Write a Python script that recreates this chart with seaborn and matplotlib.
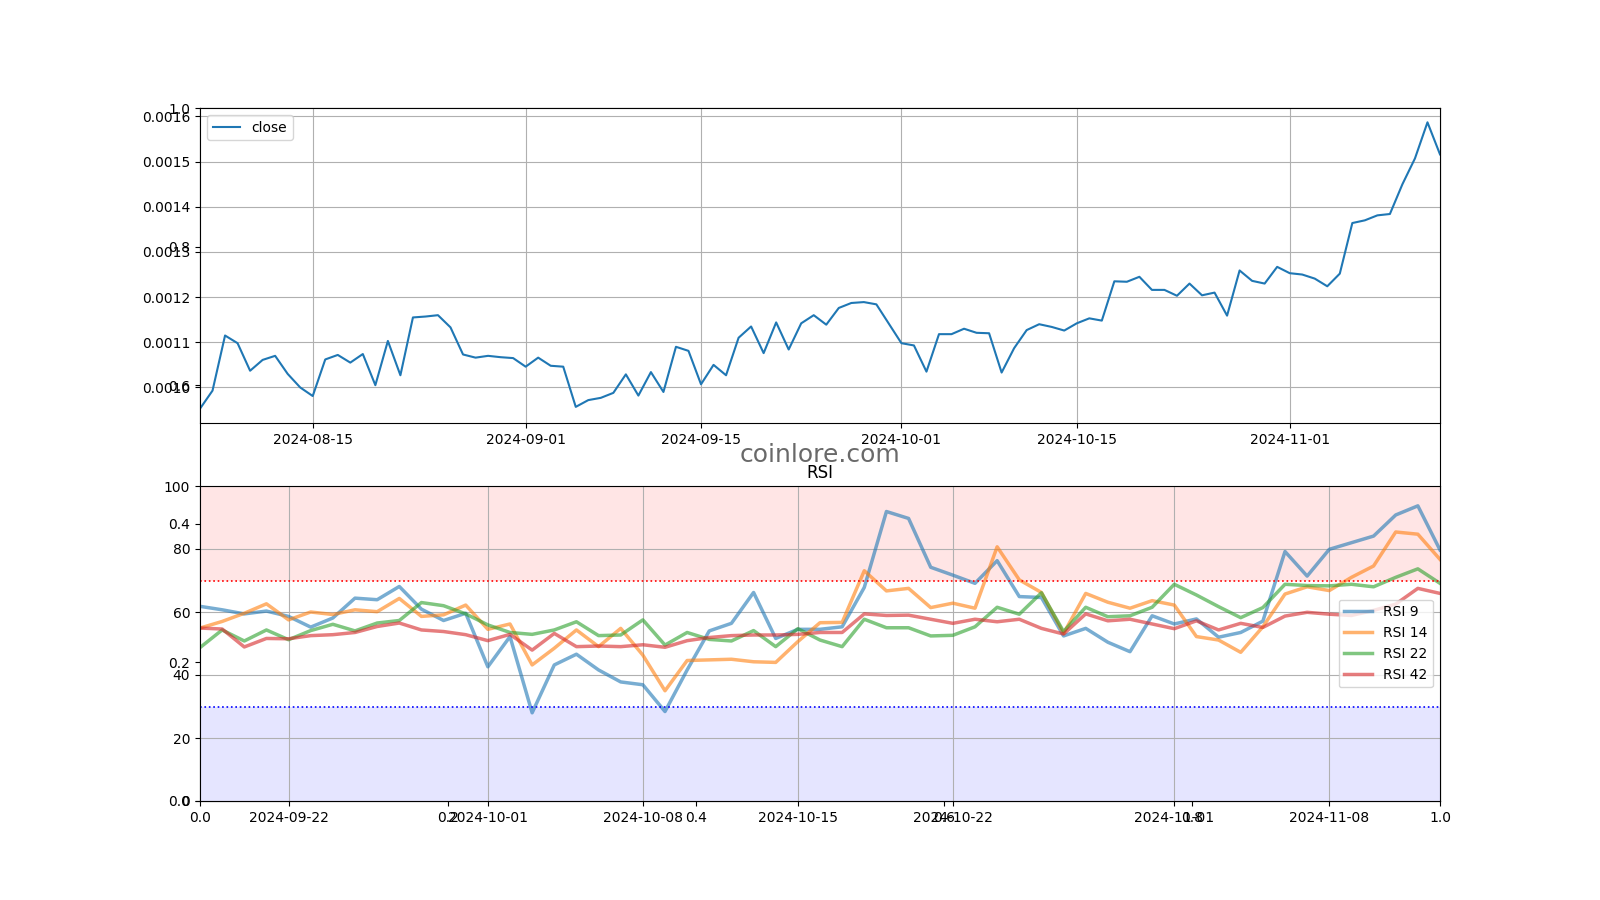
"""Price close + RSI panel with watermark."""

import matplotlib
matplotlib.use("Agg")
import matplotlib.pyplot as plt
import numpy as np
import pandas as pd
import seaborn as sns

# daily close, 2024-08-06 .. 2024-11-13
close_start = "2024-08-06"
close = [
    0.000953, 0.000993, 0.001115, 0.001098, 0.001037, 0.001061, 0.001070, 0.001030,
    0.001000, 0.000981, 0.001062, 0.001072, 0.001055, 0.001074, 0.001005, 0.001103,
    0.001027, 0.001155, 0.001157, 0.001160, 0.001133, 0.001073, 0.001066, 0.001070,
    0.001067, 0.001065, 0.001046, 0.001066, 0.001048, 0.001046, 0.000957, 0.000972,
    0.000977, 0.000988, 0.001029, 0.000982, 0.001034, 0.000990, 0.001090, 0.001081,
    0.001007, 0.001050, 0.001027, 0.001110, 0.001135, 0.001076, 0.001144, 0.001084,
    0.001142, 0.001160, 0.001139, 0.001176, 0.001187, 0.001189, 0.001184, 0.001141,
    0.001098, 0.001093, 0.001035, 0.001118, 0.001118, 0.001130, 0.001121, 0.001120,
    0.001033, 0.001087, 0.001127, 0.001140, 0.001134, 0.001126, 0.001142, 0.001153,
    0.001148, 0.001235, 0.001234, 0.001245, 0.001216, 0.001216, 0.001203, 0.001230,
    0.001204, 0.001210, 0.001159, 0.001259, 0.001236, 0.001230, 0.001267, 0.001253,
    0.001250, 0.001241, 0.001224, 0.001252, 0.001364, 0.001370, 0.001381, 0.001384,
    0.001450, 0.001507, 0.001587, 0.001516,
]

# daily RSI, 2024-09-18 .. 2024-11-13
rsi_start = "2024-09-18"
rsi_9 = [
    61.8, 60.7, 59.4, 60.3, 58.6, 55.2, 58.1, 64.4, 63.9, 68.1, 60.9, 57.3, 59.6,
    42.6, 52.2, 28.0, 43.2, 46.6, 41.6, 37.8, 36.9, 28.4, 41.6, 54.0, 56.4, 66.2,
    51.6, 54.5, 54.5, 55.3, 67.8, 91.9, 89.7, 74.2, 71.7, 69.1, 76.3, 64.9, 64.6,
    52.4, 54.8, 50.4, 47.4, 58.8, 56.2, 57.8, 52.0, 53.5, 57.1, 79.2, 71.4, 79.9,
    82.0, 84.1, 90.8, 93.7, 79.7,
]
rsi_14 = [
    54.9, 57.0, 59.6, 62.6, 57.5, 60.0, 59.2, 60.7, 60.1, 64.3, 58.6, 59.1, 62.2,
    54.5, 56.2, 43.2, 48.5, 54.3, 49.0, 54.8, 46.3, 35.0, 44.6, 44.8, 45.0, 44.2,
    44.0, 50.6, 56.6, 56.7, 73.1, 66.7, 67.5, 61.4, 62.8, 61.2, 80.7, 70.2, 66.2,
    53.2, 65.9, 63.1, 61.2, 63.6, 62.2, 52.2, 51.1, 47.2, 55.3, 65.7, 68.0, 66.8,
    71.0, 74.6, 85.4, 84.7, 76.7,
]
rsi_22 = [
    48.7, 54.3, 50.8, 54.3, 51.2, 54.1, 56.1, 54.0, 56.5, 57.3, 63.0, 62.0, 59.4,
    55.9, 53.5, 52.9, 54.3, 56.9, 52.5, 52.7, 57.5, 49.5, 53.5, 51.3, 50.8, 54.1,
    49.0, 54.7, 51.1, 49.0, 57.7, 55.0, 55.0, 52.4, 52.6, 55.3, 61.5, 59.3, 66.1,
    53.8, 61.5, 58.5, 58.8, 61.5, 68.8, 65.4, 61.7, 58.2, 61.4, 68.8, 68.4, 68.3,
    68.8, 68.0, 71.0, 73.7, 69.1,
]
rsi_42 = [
    54.9, 54.6, 48.9, 51.6, 51.5, 52.5, 52.8, 53.5, 55.4, 56.5, 54.3, 53.8, 52.8,
    50.9, 52.9, 47.9, 53.2, 49.0, 49.2, 49.0, 49.6, 48.8, 50.9, 51.9, 52.5, 52.7,
    52.7, 52.9, 53.5, 53.5, 59.4, 58.9, 59.0, 57.7, 56.4, 57.7, 56.9, 57.7, 54.8,
    53.0, 59.4, 57.2, 57.7, 56.2, 54.7, 57.2, 54.3, 56.4, 55.1, 58.7, 59.9, 59.3,
    58.9, 60.5, 62.5, 67.5, 65.9,
]
rsi_series = [("RSI 9", rsi_9), ("RSI 14", rsi_14), ("RSI 22", rsi_22), ("RSI 42", rsi_42)]
rsi_colors = ["tab:blue", "tab:orange", "tab:green", "tab:red"]

close_dates = pd.date_range(close_start, periods=len(close), freq="D")
rsi_dates = pd.date_range(rsi_start, periods=len(rsi_9), freq="D")

fig, ax0 = plt.subplots(figsize=(16, 9), dpi=100)
ax0.text(0.5, 0.5, "coinlore.com", transform=ax0.transAxes, ha="center", va="center",
         fontsize=18, color="dimgray")

# price
ax1 = fig.add_subplot(211)
sns.lineplot(x=close_dates, y=close, ax=ax1, label="close", color="tab:blue", linewidth=1.5)
ax1.set_xlim(close_dates[0], close_dates[-1])
ax1.set_xlabel("")
ax1.set_ylabel("")
ax1.grid(True)
ax1.legend(loc="upper left")

# RSI
ax2 = fig.add_subplot(212)
ax2.axhspan(70, 100, color="red", alpha=0.1, linewidth=0)
ax2.axhspan(0, 30, color="blue", alpha=0.1, linewidth=0)
for (name, vals), c in zip(rsi_series, rsi_colors):
    sns.lineplot(x=rsi_dates, y=vals, ax=ax2, label=name, color=c, alpha=0.6, linewidth=2.5)
ax2.axhline(70, color="red", linestyle=":", linewidth=1.2)
ax2.axhline(30, color="blue", linestyle=":", linewidth=1.2)
ax2.set_ylim(0, 100)
ax2.set_xlim(rsi_dates[0], rsi_dates[-1])
ax2.set_xlabel("")
ax2.set_ylabel("")
ax2.set_title("RSI")
ax2.grid(True)
ax2.legend(loc="center right")

fig.savefig("out.png", dpi=100)
plt.close(fig)
